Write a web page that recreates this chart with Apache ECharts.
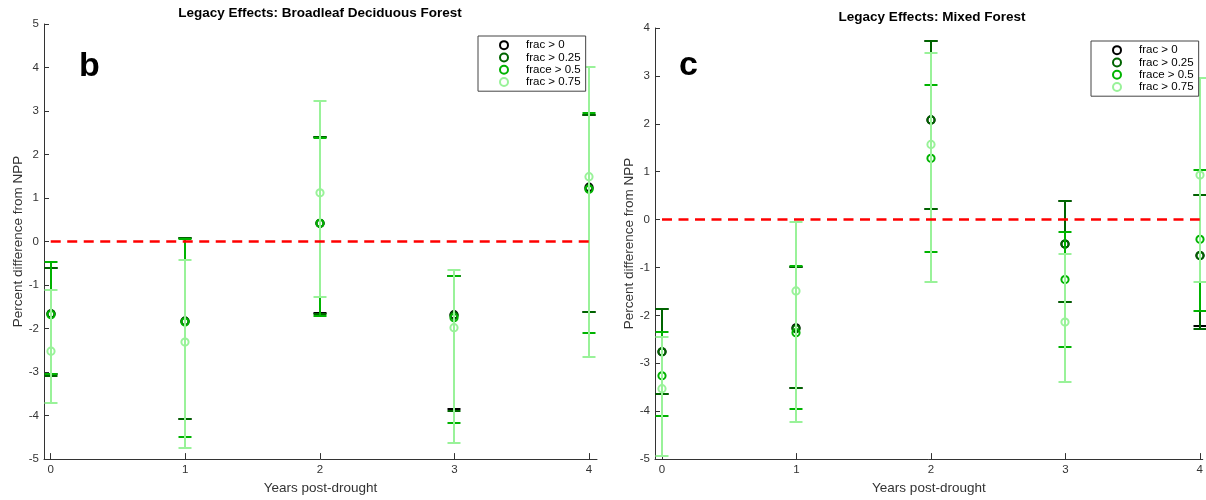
<!DOCTYPE html>
<html><head><meta charset="utf-8">
<script src="https://cdn.jsdelivr.net/npm/echarts@6/dist/echarts.min.js"></script>
<style>html,body{margin:0;padding:0;background:#fff}#chart{width:1206px;height:500px}</style>
</head><body><div id="chart"></div>
<script>
// ---------- data ----------
const years = [0, 1, 2, 3, 4];
const xTickLabels = ['0', '1', '2', '3', '4'];
const seriesNames = ['frac > 0', 'frac > 0.25', 'frace > 0.5', 'frac > 0.75'];
const seriesColors = ['#000000', '#006400', '#00b300', '#99f299'];

// Panel b: Broadleaf Deciduous Forest
const bMean0  = [-1.66, -1.83, 0.42, -1.68, 1.25];
const bLow0   = [-3.05, -4.08, -1.65, -3.84, -1.62];
const bHigh0  = [-0.61, 0.08, 2.40, -0.80, 2.92];
const bMean25 = [-1.66, -1.83, 0.42, -1.70, 1.22];
const bLow25  = [-3.08, -4.08, -1.66, -3.89, -1.62];
const bHigh25 = [-0.61, 0.08, 2.40, -0.80, 2.90];
const bMean50 = [-1.68, -1.85, 0.42, -1.75, 1.20];
const bLow50  = [-3.05, -4.49, -1.72, -4.17, -2.11];
const bHigh50 = [-0.46, 0.05, 2.38, -0.80, 2.95];
const bMean75 = [-2.52, -2.31, 1.12, -1.98, 1.49];
const bLow75  = [-3.72, -4.75, -1.27, -4.63, -2.65];
const bHigh75 = [-1.12, -0.42, 3.24, -0.66, 4.01];

// Panel c: Mixed Forest
const cMean0  = [-2.76, -2.26, 2.08, -0.51, -0.75];
const cLow0   = [-3.65, -3.51, 0.22, -1.71, -2.23];
const cHigh0  = [-1.87, -0.99, 3.72, 0.39, 0.52];
const cMean25 = [-2.76, -2.28, 2.08, -0.51, -0.75];
const cLow25  = [-3.65, -3.51, 0.22, -1.71, -2.29];
const cHigh25 = [-1.87, -0.99, 3.72, 0.39, 0.52];
const cMean50 = [-3.26, -2.36, 1.28, -1.25, -0.41];
const cLow50  = [-4.10, -3.96, -0.68, -2.67, -1.90];
const cHigh50 = [-2.35, -0.97, 2.82, -0.25, 1.04];
const cMean75 = [-3.53, -1.49, 1.57, -2.14, 0.93];
const cLow75  = [-4.94, -4.23, -1.31, -3.40, -1.30];
const cHigh75 = [-2.45, -0.06, 3.48, -0.71, 2.96];

const bSets = [[bMean0, bLow0, bHigh0], [bMean25, bLow25, bHigh25], [bMean50, bLow50, bHigh50], [bMean75, bLow75, bHigh75]];
const cSets = [[cMean0, cLow0, cHigh0], [cMean25, cLow25, cHigh25], [cMean50, cLow50, cHigh50], [cMean75, cLow75, cHigh75]];

// ---------- chart ----------
const FONT = '"Liberation Sans", Arial, Helvetica, sans-serif';
const chart = echarts.init(document.getElementById('chart'), null, {renderer: 'canvas'});

function errRender(color) {
  return function (params, api) {
    const x = api.value(0), m = api.value(1), lo = api.value(2), hi = api.value(3);
    const pm = api.coord([x, m]), pl = api.coord([x, lo]), ph = api.coord([x, hi]);
    const cx = Math.round(pm[0]);
    const yl = Math.round(pl[1]), yh = Math.round(ph[1]);
    const hw = 6.5;
    function st() { return {stroke: color, lineWidth: 2, fill: null}; }
    return {
      type: 'group',
      children: [
        {type: 'line', shape: {x1: cx, y1: yl, x2: cx, y2: yh}, style: st()},
        {type: 'line', shape: {x1: cx - hw, y1: yl, x2: cx + hw, y2: yl}, style: st()},
        {type: 'line', shape: {x1: cx - hw, y1: yh, x2: cx + hw, y2: yh}, style: st()},
        {type: 'circle', shape: {cx: cx, cy: pm[1], r: 3.6}, style: {stroke: color, lineWidth: 2, fill: null}}
      ]
    };
  };
}

const series = [];
[bSets, cSets].forEach(function (sets, gi) {
  sets.forEach(function (s, k) {
    series.push({
      type: 'custom',
      name: seriesNames[k],
      xAxisIndex: gi, yAxisIndex: gi,
      itemStyle: {color: seriesColors[k]},
      renderItem: errRender(seriesColors[k]),
      encode: {x: 0, y: [1, 2, 3]},
      data: years.map(function (x, i) { return [x, s[0][i], s[1][i], s[2][i]]; }),
      z: 2
    });
  });
  series.push({
    type: 'line', name: 'zero', xAxisIndex: gi, yAxisIndex: gi,
    data: [[years[0], 0], [years[years.length - 1], 0]],
    symbol: 'none', silent: true, z: 5,
    lineStyle: {color: '#ff0000', width: 2.5, type: [10, 6.5]}
  });
});

function xAx(gi, min, max) {
  return {
    type: 'value', gridIndex: gi, min: min, max: max,
    name: 'Years post-drought', nameLocation: 'middle', nameGap: 19,
    nameTextStyle: {fontFamily: FONT, fontSize: 13.5, color: '#333'},
    axisLine: {onZero: false, lineStyle: {color: '#333', width: 1}},
    axisTick: {inside: true, length: 6, customValues: years, lineStyle: {color: '#333'}},
    axisLabel: {customValues: years, formatter: function (v) { return xTickLabels[years.indexOf(v)]; },
      fontFamily: FONT, fontSize: 11.5, color: '#333', margin: 5},
    splitLine: {show: false}
  };
}
function yAx(gi, min, max) {
  return {
    type: 'value', gridIndex: gi, min: min, max: max, interval: 1,
    name: 'Percent difference from NPP', nameLocation: 'middle', nameGap: 14,
    nameTextStyle: {fontFamily: FONT, fontSize: 13.5, color: '#333'},
    axisLine: {show: true, onZero: false, lineStyle: {color: '#333', width: 1}},
    axisTick: {show: true, inside: true, length: 5, lineStyle: {color: '#333'}},
    axisLabel: {fontFamily: FONT, fontSize: 11.5, color: '#333', margin: 5},
    splitLine: {show: false}
  };
}

function legendData() {
  return seriesNames.map(function (n, k) {
    return {name: n, icon: 'circle', itemStyle: {color: 'rgba(0,0,0,0)', borderColor: seriesColors[k], borderWidth: 2}};
  });
}
function legend(left, top) {
  return {
    orient: 'vertical', left: left, top: top, data: legendData(),
    itemWidth: 34, itemHeight: 8, itemGap: 0,
    padding: [3, 5, 3, 21], borderColor: '#444', borderWidth: 1, backgroundColor: '#fff',
    textStyle: {fontFamily: FONT, fontSize: 11.5, color: '#000', lineHeight: 12.3},
    selectedMode: false
  };
}

chart.setOption({
  animation: false,
  backgroundColor: '#fff',
  title: [
    {text: 'Legacy Effects: Broadleaf Deciduous Forest', left: 320, top: 6, textAlign: 'center', padding: 0,
      textStyle: {fontFamily: FONT, fontSize: 13.5, fontWeight: 'bold', color: '#000'}},
    {text: 'Legacy Effects: Mixed Forest', left: 932, top: 10, textAlign: 'center', padding: 0,
      textStyle: {fontFamily: FONT, fontSize: 13.5, fontWeight: 'bold', color: '#000'}},
    {text: 'b', left: 79, top: 50, padding: 0,
      textStyle: {fontFamily: FONT, fontSize: 34, fontWeight: 'bold', color: '#000'}},
    {text: 'c', left: 679, top: 49, padding: 0,
      textStyle: {fontFamily: FONT, fontSize: 34, fontWeight: 'bold', color: '#000'}}
  ],
  legend: [legend(478, 36), legend(1091, 41)],
  grid: [
    {left: 44, top: 24, width: 553, height: 437},
    {left: 655, top: 28, width: 551, height: 437}
  ],
  xAxis: [xAx(0, -0.05, 4.06), xAx(1, -0.052, 4.022)],
  yAxis: [yAx(0, -5, 5), yAx(1, -5, 4)],
  series: series
});
</script></body></html>
